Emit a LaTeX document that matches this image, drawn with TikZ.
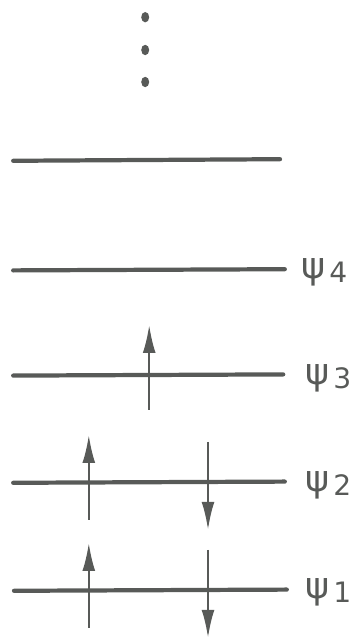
\documentclass[tikz,border=0pt]{standalone}
\usepackage{fontspec}
\usetikzlibrary{arrows.meta}
\newfontfamily\lblfont{DejaVu Sans}
\definecolor{ink}{RGB}{88,90,88}
\newcommand{\orb}[1]{{\fontsize{26}{28}\selectfont ψ}\hspace{3pt}\raisebox{-0.55ex}{\fontsize{20}{22}\selectfont #1}}
\tikzset{
	level/.style = {line width=3pt, line cap=round, ink},
	spin/.style = {line width=1.7pt, ink, -{Latex[length=7mm, width=3.2mm]}},
	orbital/.style = {ink, anchor=west, inner sep=0pt, font=\lblfont}
}
\begin{document}
\begin{tikzpicture}
	\useasboundingbox (0,0) rectangle (8.8,16);
	% higher levels
	\foreach \y in {15.57, 14.75, 13.95}
		\fill [ink] (3.63, \y) ellipse (0.1cm and 0.13cm);
	\coordinate (l5w) at (0.33, 11.98);
	\coordinate (l5e) at (7.0, 12.02);
	\draw [level] (l5w) -- (l5e);
	% psi 4
	\coordinate (l4w) at (0.33, 9.24);
	\coordinate (l4e) at (7.12, 9.27);
	\draw [level] (l4w) -- (l4e);
	\node [orbital] (psi4) at (7.52, 9.2) {\orb{4}};
	% psi 3
	\coordinate (l3w) at (0.33, 6.61);
	\coordinate (l3e) at (7.08, 6.64);
	\draw [level] (l3w) -- (l3e);
	\node [orbital] (psi3) at (7.62, 6.55) {\orb{3}};
	\coordinate (s3a) at (3.73, 5.75);
	\coordinate (s3b) at (3.73, 7.88);
	\draw [spin] (s3a) -- (s3b);
	% psi 2
	\coordinate (l2w) at (0.33, 3.93);
	\coordinate (l2e) at (7.12, 3.96);
	\draw [level] (l2w) -- (l2e);
	\node [orbital] (psi2) at (7.62, 3.87) {\orb{2}};
	\coordinate (s2a) at (2.22, 3.0);
	\coordinate (s2b) at (2.22, 5.13);
	\coordinate (s2c) at (5.2, 4.95);
	\coordinate (s2d) at (5.2, 2.75);
	\draw [spin] (s2a) -- (s2b);
	\draw [spin] (s2c) -- (s2d);
	% psi 1
	\coordinate (l1w) at (0.35, 1.23);
	\coordinate (l1e) at (7.17, 1.26);
	\draw [level] (l1w) -- (l1e);
	\node [orbital] (psi1) at (7.62, 1.2) {\orb{1}};
	\coordinate (s1a) at (2.22, 0.3);
	\coordinate (s1b) at (2.22, 2.43);
	\coordinate (s1c) at (5.2, 2.25);
	\coordinate (s1d) at (5.2, 0.05);
	\draw [spin] (s1a) -- (s1b);
	\draw [spin] (s1c) -- (s1d);
\end{tikzpicture}
\end{document}
